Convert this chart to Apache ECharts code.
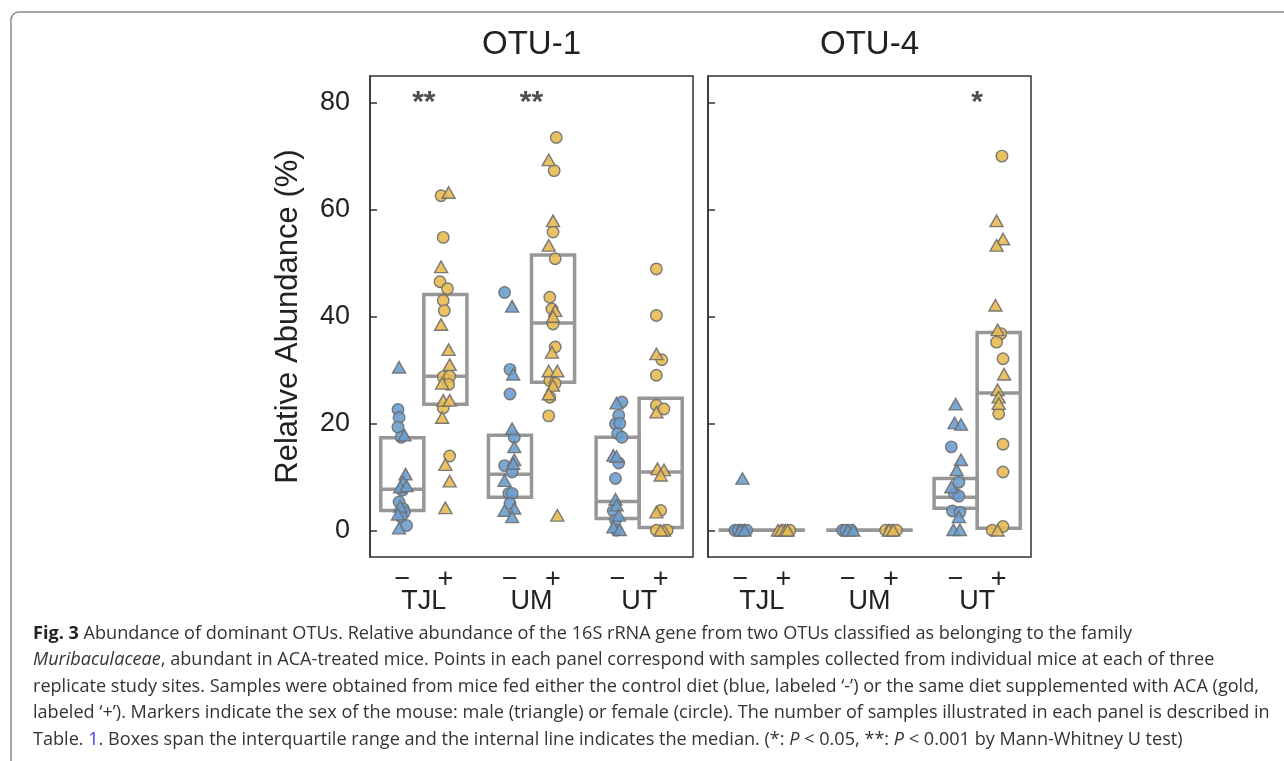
<!DOCTYPE html>
<html>
<head>
<meta charset="utf-8">
<title>Fig. 3 Abundance of dominant OTUs</title>
<script src="https://cdn.jsdelivr.net/npm/echarts@6/dist/echarts.min.js"></script>
<style>
  html, body { margin: 0; padding: 0; background: #fff; }
  #chart { width: 1284px; height: 761px; }
</style>
</head>
<body>
<div id="chart"></div>
<script>
// categories and axis ticks
const categories = ["TJL", "UM", "UT"];
const yTicks = [0, 20, 40, 60, 80];

// points: [x jitter, relative abundance %, sex]  (m = triangle, f = circle)
// OTU-1
const otu1TjlMinus = [
  [-0.03, 30.5, "m"], [-0.04, 22.6, "f"], [-0.03, 21.1, "f"], [-0.04, 19.3, "f"], [-0.01, 17.4, "f"],
  [0.02, 17.8, "m"], [0.03, 10.5, "m"], [0.01, 9.0, "m"], [-0.02, 8.1, "m"], [0.04, 8.3, "m"],
  [0, 7.5, "f"], [-0.03, 5.3, "f"], [0.01, 4.0, "f"], [0.02, 3.4, "f"], [-0.02, 4.5, "m"],
  [-0.01, 2.5, "f"], [-0.04, 3.0, "m"], [0.04, 0.9, "f"], [-0.03, 0.4, "m"],
];
const otu1TjlPlus = [
  [-0.04, 62.6, "f"], [0.03, 63.2, "m"], [-0.02, 54.8, "f"], [-0.04, 49.3, "m"], [-0.05, 46.5, "f"],
  [0.02, 45.2, "f"], [-0.02, 43.0, "f"], [-0.01, 41.1, "f"], [-0.04, 38.5, "m"], [0.03, 33.8, "m"],
  [0.04, 31.0, "m"], [-0.02, 28.7, "f"], [0.04, 28.8, "f"], [0.03, 27.3, "f"], [-0.03, 27.5, "m"],
  [-0.02, 24.3, "m"], [0.04, 24.3, "m"], [-0.02, 22.9, "f"], [-0.03, 21.1, "m"], [0.04, 13.9, "f"],
  [0, 12.3, "m"], [0.04, 9.2, "m"], [0, 4.2, "m"],
];
const otu1UmMinus = [
  [-0.05, 44.5, "f"], [0.02, 41.9, "m"], [0, 30.1, "f"], [0.03, 29.2, "m"], [0, 25.5, "f"],
  [0.02, 19.0, "m"], [0.04, 17.4, "f"], [0.04, 15.6, "m"], [0.04, 13.2, "m"], [0.03, 12.5, "m"],
  [-0.05, 12.1, "f"], [0.02, 10.9, "f"], [-0.05, 9.3, "m"], [-0.01, 6.9, "f"], [0.02, 6.9, "f"],
  [0, 5.0, "f"], [0.04, 4.1, "m"], [-0.05, 3.7, "m"], [0.02, 2.5, "m"],
];
const otu1UmPlus = [
  [0.03, 73.5, "f"], [-0.04, 69.3, "m"], [0.01, 67.3, "f"], [0, 57.9, "m"], [0, 55.8, "f"],
  [-0.04, 53.3, "m"], [0.02, 50.8, "f"], [-0.03, 43.6, "f"], [-0.01, 41.4, "f"], [0.02, 41.1, "m"],
  [0, 40.0, "m"], [0, 38.6, "f"], [0.02, 34.3, "f"], [-0.01, 33.3, "m"], [-0.04, 29.8, "m"],
  [0.04, 29.8, "m"], [-0.03, 28.0, "f"], [0.02, 27.5, "f"], [0, 27.1, "m"], [-0.04, 25.5, "m"],
  [-0.03, 24.9, "f"], [-0.04, 21.4, "f"], [0.04, 2.8, "m"],
];
const otu1UtMinus = [
  [-0.01, 23.8, "m"], [0.04, 24.0, "f"], [0.01, 21.5, "f"], [-0.02, 19.9, "f"], [0.02, 20.0, "f"],
  [0, 18.1, "f"], [0.04, 17.4, "f"], [-0.04, 14.0, "m"], [-0.01, 13.8, "m"], [0.01, 12.6, "f"],
  [-0.02, 9.7, "f"], [-0.02, 5.8, "m"], [-0.01, 4.7, "m"], [-0.04, 3.6, "f"], [0.01, 2.8, "m"],
  [-0.02, 1.9, "f"], [-0.04, 0.6, "m"], [0.02, 0.1, "m"], [-0.01, 0, "f"],
];
const otu1UtPlus = [
  [-0.04, 48.9, "f"], [-0.04, 40.2, "f"], [-0.04, 33.0, "m"], [0.01, 31.9, "f"], [-0.04, 29.0, "f"],
  [-0.04, 23.4, "f"], [0.03, 22.7, "f"], [-0.04, 22.1, "m"], [-0.03, 11.5, "m"], [0.03, 11.3, "m"],
  [0, 10.3, "m"], [-0.04, 3.4, "m"], [0, 3.7, "f"], [-0.04, 0, "f"], [0.03, 0, "m"],
  [0.06, 0, "f"], [0, 0, "m"],
];
// OTU-4
const otu4TjlMinus = [
  [0.02, 9.7, "m"], [-0.05, 0, "f"], [-0.02, 0, "f"], [0, 0, "m"], [0.02, 0, "f"], [0.04, 0, "m"], [0.06, 0, "f"],
];
const otu4TjlPlus = [
  [-0.05, 0, "m"], [-0.02, 0, "m"], [0, 0, "f"], [0.02, 0, "m"], [0.04, 0, "m"], [0.06, 0, "f"],
];
const otu4UmMinus = [
  [-0.05, 0, "f"], [-0.02, 0, "f"], [0, 0, "m"], [0.03, 0, "f"], [0.05, 0, "m"],
];
const otu4UmPlus = [
  [-0.05, 0, "f"], [-0.02, 0, "m"], [0, 0, "f"], [0.02, 0, "m"], [0.05, 0, "f"],
];
const otu4UtMinus = [
  [0, 23.6, "m"], [-0.01, 20.1, "m"], [0.05, 19.8, "m"], [-0.04, 15.6, "f"], [0.05, 13.2, "m"],
  [0.01, 11.3, "m"], [0.03, 9.0, "f"], [-0.04, 8.1, "m"], [-0.01, 6.9, "f"], [0.03, 6.4, "f"],
  [-0.03, 3.6, "f"], [0.04, 3.4, "f"], [0.03, 2.5, "m"], [-0.02, 0.1, "m"], [0.04, 0.1, "m"],
];
const otu4UtPlus = [
  [0.03, 70.0, "f"], [-0.02, 57.9, "m"], [0.04, 54.5, "m"], [-0.02, 53.3, "m"], [-0.03, 42.1, "m"],
  [-0.01, 37.5, "m"], [0.02, 36.8, "f"], [-0.02, 35.2, "f"], [0.04, 32.1, "f"], [0.05, 29.2, "m"],
  [-0.01, 26.3, "m"], [0, 24.9, "m"], [0, 23.7, "m"], [0, 21.8, "f"], [0.04, 16.1, "f"],
  [0.04, 10.9, "f"], [-0.06, 0, "f"], [-0.01, 0, "m"], [0.04, 0.7, "f"],
];

// boxes (order: TJL-, TJL+, UM-, UM+, UT-, UT+)
const otu1Q1 = [3.7, 23.6, 6.2, 27.7, 2.2, 0.5];
const otu1Median = [7.7, 28.8, 10.5, 38.8, 5.4, 10.9];
const otu1Q3 = [17.3, 44.1, 17.8, 51.5, 17.4, 24.7];
const otu4Q1 = [0, 0, 0, 0, 4.1, 0.4];
const otu4Median = [0, 0, 0, 0, 6.2, 25.7];
const otu4Q3 = [0, 0, 0, 0, 9.7, 37.0];

// significance marks per category
const otu1Sig = ["**", "**", ""];
const otu4Sig = ["", "", "*"];

const BLUE = "#6b9fcf";
const GOLD = "#e8ba52";
const EDGE = "#6e6e6e";
const BOX = "#979797";
const TXT = "#222";
const FONT = "Liberation Sans";
const HUE_OFFSET = 0.2;
const BOX_WIDTH = 0.4;

const chart = echarts.init(document.getElementById("chart"));

// one scatter series per panel / diet / sex
function pointSeries(groups, hue, sex, panel) {
  const data = [];
  groups.forEach((pair, ci) => {
    pair[hue].forEach((p) => {
      if (p[2] === sex) {
        data.push([ci + (hue ? HUE_OFFSET : -HUE_OFFSET) + p[0], p[1]]);
      }
    });
  });
  return {
    type: "scatter",
    xAxisIndex: panel * 2,
    yAxisIndex: panel,
    symbol: sex === "m" ? "triangle" : "circle",
    symbolSize: sex === "m" ? [13, 11.5] : 11.5,
    data: data,
    silent: true,
    z: 4,
    itemStyle: {
      color: hue ? GOLD : BLUE,
      borderColor: EDGE,
      borderWidth: 1.4,
      opacity: 0.9,
    },
  };
}

function boxSeries(q1, med, q3, panel) {
  const data = q1.map((v, i) => [
    Math.floor(i / 2) + (i % 2 ? HUE_OFFSET : -HUE_OFFSET),
    v,
    med[i],
    q3[i],
  ]);
  return {
    type: "custom",
    xAxisIndex: panel * 2,
    yAxisIndex: panel,
    silent: true,
    z: 3,
    encode: { x: 0, y: [1, 2, 3] },
    data: data,
    renderItem: function (params, api) {
      const x = api.value(0);
      const lo = api.coord([x, api.value(1)]);
      const mid = api.coord([x, api.value(2)]);
      const hi = api.coord([x, api.value(3)]);
      const w = api.size([BOX_WIDTH, 0])[0];
      return {
        type: "group",
        children: [
          {
            type: "rect",
            shape: { x: lo[0] - w / 2, y: hi[1], width: w, height: lo[1] - hi[1] },
            style: { fill: "none", stroke: BOX, lineWidth: 3.5 },
          },
          {
            type: "line",
            shape: { x1: mid[0] - w / 2, y1: mid[1], x2: mid[0] + w / 2, y2: mid[1] },
            style: { stroke: BOX, lineWidth: 3.5 },
          },
        ],
      };
    },
  };
}

function sigSeries(marks, panel) {
  return {
    type: "scatter",
    xAxisIndex: panel * 2,
    yAxisIndex: panel,
    symbolSize: 0,
    silent: true,
    z: 5,
    data: marks.map((m, i) => ({ value: [i, 80], name: m })),
    label: {
      show: true,
      position: "inside",
      formatter: (p) => p.name,
      fontFamily: FONT,
      fontSize: 30,
      fontWeight: "bold",
      color: TXT,
    },
  };
}

function valueX(grid) {
  return { type: "value", gridIndex: grid, min: -0.5, max: 2.5, show: false, position: "top" };
}

function categoryX(grid) {
  return {
    type: "category",
    gridIndex: grid,
    position: "bottom",
    data: categories,
    axisLine: { show: false },
    axisTick: { show: false },
    axisLabel: {
      margin: 12,
      interval: 0,
      formatter: (v) => "{m|\u2212}{p|+}\n{c|" + v + "}",
      rich: {
        m: { width: 43, align: "center", fontSize: 27, fontFamily: FONT, color: TXT, lineHeight: 22 },
        p: { width: 43, align: "center", fontSize: 27, fontFamily: FONT, color: TXT, lineHeight: 22 },
        c: { fontSize: 27, fontFamily: FONT, color: TXT, lineHeight: 22 },
      },
    },
  };
}

function yAxisFor(grid) {
  const ax = {
    type: "value",
    gridIndex: grid,
    min: -5,
    max: 85,
    splitLine: { show: false },
    axisLine: { show: true, onZero: false, lineStyle: { color: "#333", width: 1.5 } },
    axisTick: { inside: true, length: 7, customValues: yTicks, lineStyle: { color: "#333", width: 1.5 } },
    axisLabel: {
      show: grid === 0,
      customValues: yTicks,
      margin: 20,
      fontSize: 27,
      fontFamily: FONT,
      color: TXT,
    },
  };
  if (grid === 0) {
    ax.name = "Relative Abundance (%)";
    ax.nameLocation = "middle";
    ax.nameGap = 66;
    ax.nameTextStyle = { fontSize: 31, fontFamily: FONT, color: TXT };
  }
  return ax;
}

const otu1Groups = [
  [otu1TjlMinus, otu1TjlPlus],
  [otu1UmMinus, otu1UmPlus],
  [otu1UtMinus, otu1UtPlus],
];
const otu4Groups = [
  [otu4TjlMinus, otu4TjlPlus],
  [otu4UmMinus, otu4UmPlus],
  [otu4UtMinus, otu4UtPlus],
];

// caption lines
const captionLines = [
  "{b|Fig. 3} Abundance of dominant OTUs. Relative abundance of the 16S rRNA gene from two OTUs classified as belonging to the family",
  "{i|Muribaculaceae}, abundant in ACA-treated mice. Points in each panel correspond with samples collected from individual mice at each of three",
  "replicate study sites. Samples were obtained from mice fed either the control diet (blue, labeled \u2018-\u2019) or the same diet supplemented with ACA (gold,",
  "labeled \u2018+\u2019). Markers indicate the sex of the mouse: male (triangle) or female (circle). The number of samples illustrated in each panel is described in",
  "Table. {l|1}. Boxes span the interquartile range and the internal line indicates the median. (*: {i|P} < 0.05, **: {i|P} < 0.001 by Mann-Whitney U test)",
];
const CAP_FONT = "Open Sans";
const CAP_SIZE = 18.1;
const capRich = {
  b: { fontWeight: "bold", fontSize: CAP_SIZE, fontFamily: CAP_FONT, fill: "#222" },
  i: { fontStyle: "italic", fontSize: CAP_SIZE, fontFamily: CAP_FONT, fill: "#333" },
  l: { fontSize: CAP_SIZE, fontFamily: CAP_FONT, fill: "#3b3bf0" },
};

const graphics = [
  {
    type: "rect",
    silent: true,
    shape: { x: 11, y: 12, width: 1400, height: 900, r: 8 },
    style: { fill: "none", stroke: "#8a8a8a", lineWidth: 1.5 },
  },
  {
    type: "text",
    x: 531.5,
    y: 45,
    style: { text: "OTU-1", fontSize: 33, fontFamily: FONT, fill: TXT, align: "center", verticalAlign: "middle" },
  },
  {
    type: "text",
    x: 869.5,
    y: 45,
    style: { text: "OTU-4", fontSize: 33, fontFamily: FONT, fill: TXT, align: "center", verticalAlign: "middle" },
  },
];
captionLines.forEach((line, i) => {
  graphics.push({
    type: "text",
    x: 33,
    y: 633.5 + i * 26.6,
    style: {
      text: line,
      fontSize: CAP_SIZE,
      fontFamily: CAP_FONT,
      fill: "#333",
      verticalAlign: "middle",
      rich: capRich,
    },
  });
});

const option = {
  backgroundColor: "#fff",
  animation: false,
  grid: [
    { left: 370, top: 76, width: 323, height: 481, show: true, borderColor: "#333", borderWidth: 1.5 },
    { left: 708, top: 76, width: 323, height: 481, show: true, borderColor: "#333", borderWidth: 1.5 },
  ],
  xAxis: [valueX(0), categoryX(0), valueX(1), categoryX(1)],
  yAxis: [yAxisFor(0), yAxisFor(1)],
  graphic: graphics,
  series: [
    boxSeries(otu1Q1, otu1Median, otu1Q3, 0),
    boxSeries(otu4Q1, otu4Median, otu4Q3, 1),
    pointSeries(otu1Groups, 0, "f", 0),
    pointSeries(otu1Groups, 0, "m", 0),
    pointSeries(otu1Groups, 1, "f", 0),
    pointSeries(otu1Groups, 1, "m", 0),
    pointSeries(otu4Groups, 0, "f", 1),
    pointSeries(otu4Groups, 0, "m", 1),
    pointSeries(otu4Groups, 1, "f", 1),
    pointSeries(otu4Groups, 1, "m", 1),
    sigSeries(otu1Sig, 0),
    sigSeries(otu4Sig, 1),
  ],
};

chart.setOption(option);

window.addEventListener("resize", () => {
  chart.resize();
});
</script>
</body>
</html>
